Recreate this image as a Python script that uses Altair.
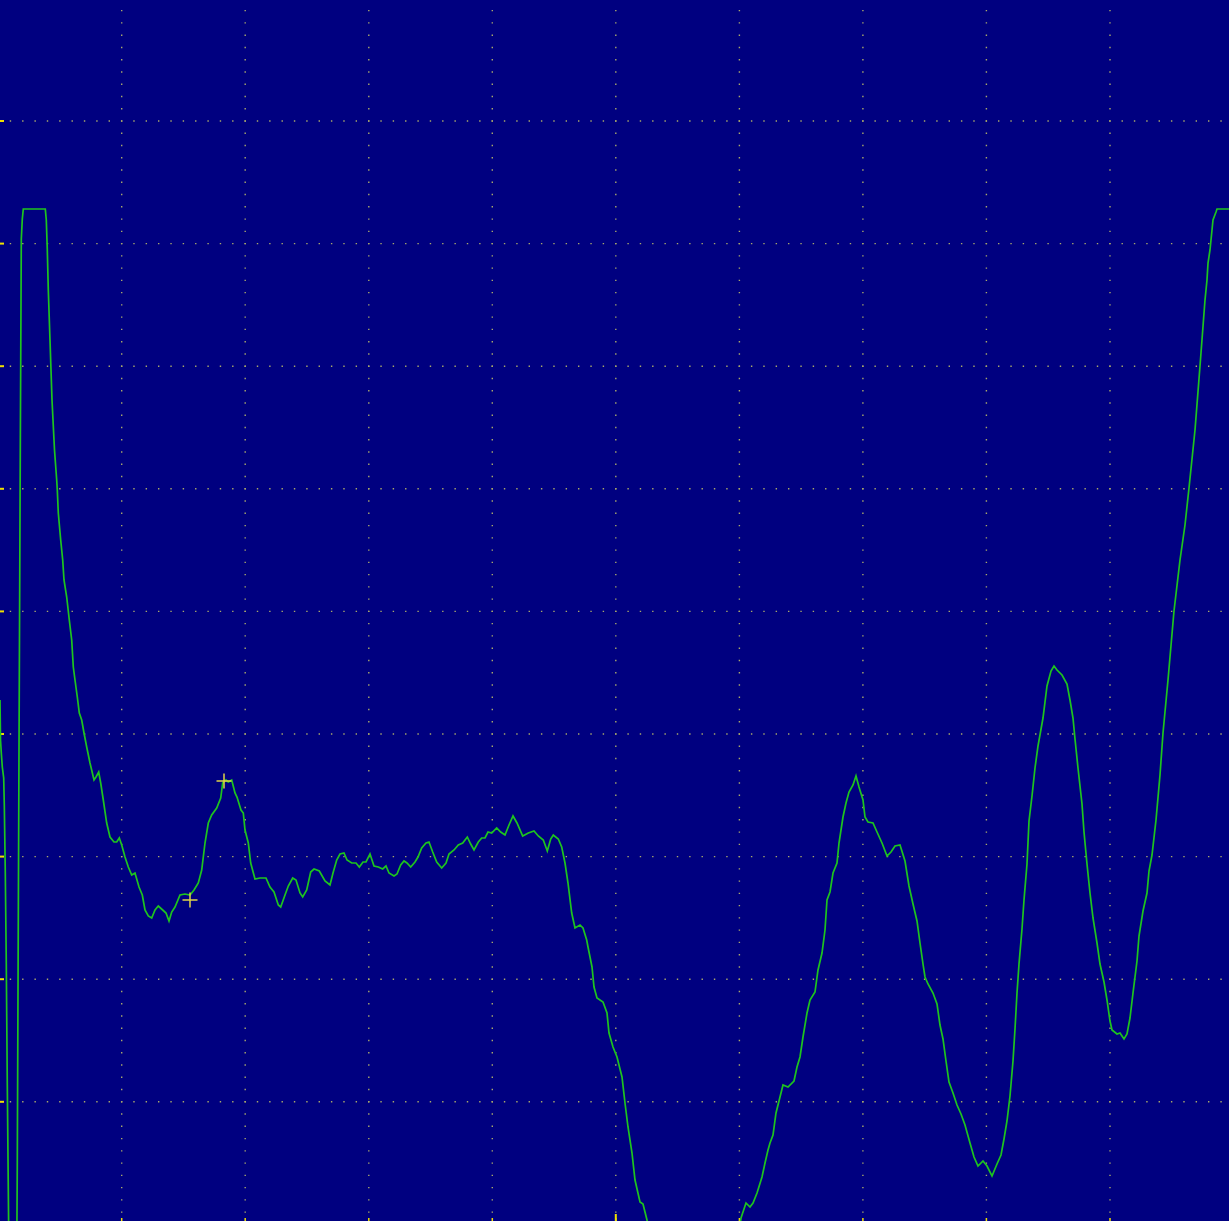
import altair as alt
import pandas as pd

W, H = 1229, 1221

# ---- trace data (sample index, ADC level) ----
t = [0, 0.5, 1.3, 2.3, 3.7, 4.3, 5.3, 6.3, 7.3, 8.3, 9, 16.5, 17.3, 18.3, 19.3, 20.3, 21.3, 22.3, 23.3,
     45.3, 46.3, 47.3, 48.3, 50, 52, 54.5, 56.7, 57.3, 58.3, 60.7, 62.7, 64, 66.7, 69.3, 71.7, 73.3, 75,
     77.3, 79.3, 81.7, 84, 86.7, 90, 94, 96, 98.7, 100.7, 103.3, 106.7, 110, 114, 116.7, 119.3, 121.7,
     125, 128.3, 131.7, 135, 139, 142.3, 145, 148.3, 151.7, 155, 158.3, 162.7, 166, 169, 171.7, 175,
     180, 185, 190, 194, 198.3, 201.7, 205, 208.3, 211.7, 216.7, 220.7, 222.7, 226, 228.3, 231.7, 235,
     237, 241, 243.3, 245, 248.3, 250.7, 255, 260, 266, 270, 274, 278.3, 280.7, 285, 288.3, 292.7, 296,
     300, 302.7, 306.7, 310.7, 314, 319.3, 325, 330, 333, 336.7, 340, 344, 347, 351.7, 356, 359.3, 363,
     366, 370, 374, 378.3, 382.7, 386, 389, 394, 397, 400.7, 404, 407, 410.7, 415, 418, 421.7, 426, 429,
     432.7, 436.7, 441.7, 446, 449, 454, 458.3, 462.7, 467.3, 470.7, 474, 478.3, 481.7, 485, 488, 491.7,
     496.7, 500.7, 505, 509, 513, 517, 522.7, 528.3, 534, 538.3, 543.3, 547.3, 550.7, 553.3, 558.3,
     561.7, 565, 568, 571.7, 575, 580, 583, 586.7, 588, 592, 594, 597, 603, 607, 609, 613, 617, 622, 625,
     628, 632, 635, 640, 643, 647, 652, 660, 675, 694, 712, 728, 738, 741, 743, 746, 750, 753, 757, 762,
     765, 768, 770, 773, 776, 780, 783, 788, 794, 797, 800, 803, 807, 810, 815, 818, 822, 825, 827, 830,
     833, 837, 839, 843, 846, 849, 853, 856, 859, 863, 865, 868, 873, 877, 882, 887, 891, 895, 900, 905,
     909, 913, 917, 920, 923, 925, 928, 933, 937, 940, 943, 946, 949, 953, 957, 961, 965, 970, 974, 978,
     983, 987, 992, 997, 1001, 1004, 1007, 1010, 1013, 1015, 1017, 1019, 1022, 1024, 1027, 1029, 1032,
     1035, 1038, 1043, 1047, 1051, 1054, 1057, 1062, 1067, 1070, 1073, 1075, 1078, 1082, 1084, 1087,
     1090, 1093, 1097, 1100, 1104, 1107, 1110, 1112, 1117, 1120, 1124, 1127, 1130, 1133, 1137, 1139,
     1143, 1147, 1149, 1152, 1156, 1160, 1163, 1168, 1174, 1180, 1185, 1189, 1195, 1200, 1205, 1207,
     1208, 1210, 1212, 1213, 1216, 1217, 1229]

v = [-89, -129, -142, -156, -167, -194, -262, -354, -474, -579, -649, -689, -551, -308, -69, 161, 372, 392, 402,
     402, 391, 361, 321, 271, 211, 161, 131, 121, 98, 71, 51, 31, 14, -9, -29, -56, -69,
     -86, -102, -109, -122, -136, -152, -169, -166, -161, -172, -189, -212, -226, -231, -231, -227, -234,
     -246, -256, -264, -262, -276, -284, -299, -305, -307, -299, -295, -299, -302, -310, -301, -296,
     -284, -283, -284, -279, -272, -259, -232, -212, -204, -197, -187, -172, -169, -171, -169, -182,
     -186, -199, -202, -219, -232, -252, -268, -267, -267, -276, -281, -294, -296, -284, -275, -267, -269,
     -282, -286, -279, -261, -258, -260, -270, -274, -262, -249, -243, -242, -249, -252, -252, -256, -251,
     -251, -243, -255, -256, -258, -255, -262, -265, -263, -254, -250, -252, -256, -251, -246, -237, -232, -231,
     -241, -251, -257, -252, -243, -239, -234, -232, -226, -233, -239, -231, -227, -227, -221, -222,
     -217, -221, -224, -214, -205, -212, -225, -222, -220, -225, -229, -240, -228, -224, -228,
     -236, -252, -272, -302, -317, -314, -317, -329, -336, -356, -376, -387, -391, -402, -422, -436, -446, -466, -492,
     -516, -542, -569, -591, -593, -609, -639, -679, -709, -719, -699, -659, -629, -607, -601, -592, -596, -592, -582, -566,
     -552, -539, -532, -524, -502, -486, -474, -476, -470, -456, -446, -426, -402, -389, -381, -359, -342, -319, -289, -281,
     -262, -252, -232, -206, -192, -181, -174, -165, -176, -189, -206, -211, -212, -221, -232, -245, -241, -235, -234, -250,
     -275, -293, -310, -332, -353, -366, -373, -382, -393, -414, -428, -450, -471, -482, -494, -503, -514, -532, -546, -555,
     -550, -555, -565, -553, -544, -528, -510, -485, -450, -418, -382, -353, -318, -289, -253, -210, -185,
     -157, -135, -107, -75, -60, -55, -59, -64, -73, -89, -107, -128, -157, -193, -221, -253,
     -282, -307, -332, -353, -371, -389, -410, -419, -423, -422, -428, -423, -407, -382, -350, -325,
     -300, -282, -260, -244, -209, -164, -122, -69, 0, 51, 86, 123, 181, 245, 311, 331,
     348, 361, 381, 391, 399, 402, 402]

# cursor markers
marker_t = [224, 190]
marker_v = [-170, -289]

# graticule positions
x_grid = [121.7, 245.2, 368.8, 492.3, 615.8, 739.4, 862.9, 986.4, 1110.0]
y_grid = [490.0, 367.4, 244.8, 122.2, -0.4, -123.0, -245.6, -368.2, -490.8]
x_center = [615.8]

trace = pd.DataFrame({"t": t, "v": v})
markers = pd.DataFrame({"t": marker_t, "v": marker_v})
xg = pd.DataFrame({"t": x_grid})
yg = pd.DataFrame({"v": y_grid})
xc = pd.DataFrame({"t": x_center})

xs = alt.Scale(domain=[0, W], nice=False, zero=False)
ys = alt.Scale(domain=[-610, 611], nice=False, zero=False)

GRID = "#a8a86a"
TICK = "#f0e000"
PX = 12.353
PY = 12.26

vgrid = alt.Chart(xg).mark_rule(
    stroke=GRID, strokeWidth=1.4, strokeDash=[1.4, PY - 1.4], strokeDashOffset=2.3
).encode(
    x=alt.X("t:Q", scale=xs, axis=None),
    y=alt.value(0), y2=alt.value(H),
)

hgrid = alt.Chart(yg).mark_rule(
    stroke=GRID, strokeWidth=1.4, strokeDash=[1.4, PX - 1.4], strokeDashOffset=2.6
).encode(
    y=alt.Y("v:Q", scale=ys, axis=None),
    x=alt.value(0), x2=alt.value(W),
)

left_ticks = alt.Chart(yg).mark_rule(stroke=TICK, strokeWidth=2).encode(
    y=alt.Y("v:Q", scale=ys, axis=None),
    x=alt.value(0), x2=alt.value(4),
)

bottom_ticks = alt.Chart(xg).mark_rule(stroke=TICK, strokeWidth=1.5).encode(
    x=alt.X("t:Q", scale=xs, axis=None),
    y=alt.value(H - 3), y2=alt.value(H),
)

center_tick = alt.Chart(xc).mark_rule(stroke=TICK, strokeWidth=2).encode(
    x=alt.X("t:Q", scale=xs, axis=None),
    y=alt.value(H - 7), y2=alt.value(H),
)

line = alt.Chart(trace).mark_line(
    color="#1ec41e", strokeWidth=1.7, clip=True, interpolate="linear"
).encode(
    x=alt.X("t:Q", scale=xs, axis=None),
    y=alt.Y("v:Q", scale=ys, axis=None),
    order="t:Q",
)

cursor = alt.Chart(markers).mark_point(
    shape="M-1,0L1,0M0,-1L0,1", size=225, filled=False,
    stroke="#e0d448", strokeWidth=1.5, opacity=1
).encode(
    x=alt.X("t:Q", scale=xs, axis=None),
    y=alt.Y("v:Q", scale=ys, axis=None),
)

chart = alt.layer(vgrid, hgrid, left_ticks, bottom_ticks, center_tick, line, cursor).properties(
    width=W, height=H, padding=0, autosize="none", background="#000080"
).configure_view(stroke=None, fill="#000080")

chart.save("out.html", embed_options={"renderer": "svg", "actions": False})
